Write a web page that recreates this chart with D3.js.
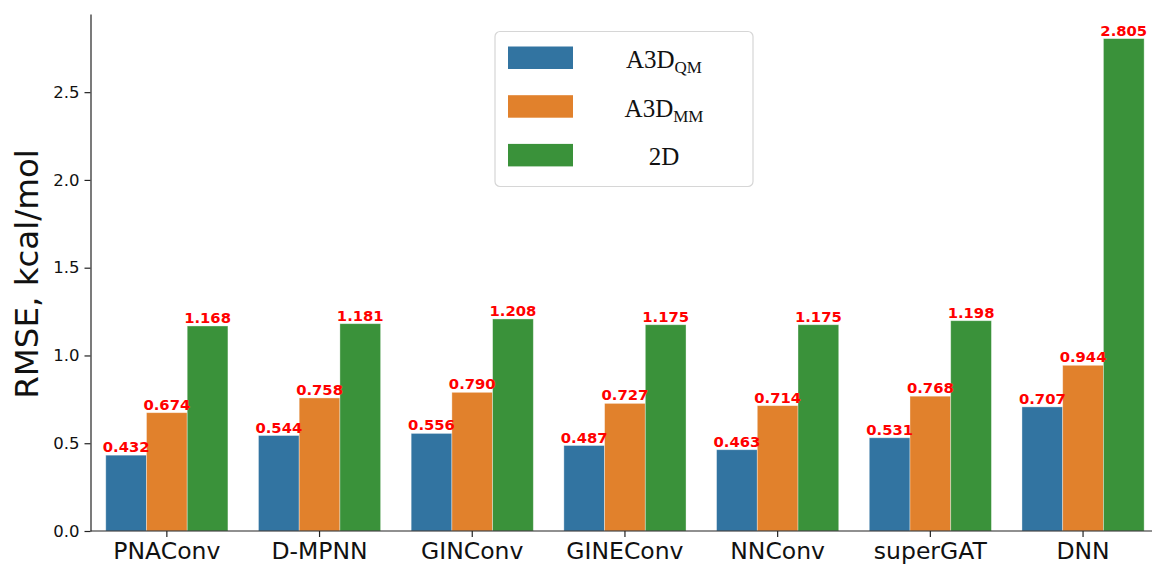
<!DOCTYPE html>
<html>
<head>
<meta charset="utf-8">
<script src="https://cdn.jsdelivr.net/npm/d3@7"></script>
<style>
  html, body { margin: 0; padding: 0; background: #fff; }
  svg { display: block; }
</style>
</head>
<body>
<svg id="chart" width="1152" height="568"></svg>
<script>
// Models compared, and RMSE (kcal/mol) for each descriptor type
const categories = ["PNAConv", "D-MPNN", "GINConv", "GINEConv", "NNConv", "superGAT", "DNN"];
const seriesKeys = ["A3D_QM", "A3D_MM", "2D"];
const valuesQM = [0.432, 0.544, 0.556, 0.487, 0.463, 0.531, 0.707];
const valuesMM = [0.674, 0.758, 0.790, 0.727, 0.714, 0.768, 0.944];
const values2D = [1.168, 1.181, 1.208, 1.175, 1.175, 1.198, 2.805];
const yTicks = [0.0, 0.5, 1.0, 1.5, 2.0, 2.5];
const seriesColors = ["#3274a1", "#e1812c", "#3a923a"];
const legendLabels = [["A3D", "QM"], ["A3D", "MM"], ["2D", ""]];

const seriesValues = [valuesQM, valuesMM, values2D];
const rows = [];
categories.forEach((c, ci) => {
  seriesKeys.forEach((k, si) => rows.push({ cat: c, key: k, si, value: seriesValues[si][ci] }));
});

const svg = d3.select("#chart");
const plotLeft = 90.5, plotBottom = 531, plotTop = 14;
const step = 152.7;

const x = d3.scaleBand()
  .domain(categories)
  .range([plotLeft, plotLeft + step * categories.length])
  .paddingInner(0.2)
  .paddingOuter(0.1);

const xSub = d3.scaleBand()
  .domain(seriesKeys)
  .range([0, x.bandwidth()]);

const yMax = d3.max(values2D) * 1.05;
const y = d3.scaleLinear().domain([0, yMax]).range([plotBottom, plotTop]);

// bars
const g = svg.append("g");
g.selectAll("rect.bar")
  .data(rows)
  .join("rect")
  .attr("class", "bar")
  .attr("x", d => x(d.cat) + xSub(d.key))
  .attr("y", d => y(d.value))
  .attr("width", xSub.bandwidth())
  .attr("height", d => y(0) - y(d.value))
  .attr("fill", d => seriesColors[d.si])
  .attr("stroke", "rgba(255,255,255,0.45)")
  .attr("stroke-width", 0.8);

// value labels
g.selectAll("text.val")
  .data(rows)
  .join("text")
  .attr("class", "val")
  .attr("x", d => x(d.cat) + xSub(d.key) + xSub.bandwidth() / 2)
  .attr("y", d => y(d.value) - 3)
  .attr("text-anchor", "middle")
  .attr("font-family", "DejaVu Sans, sans-serif")
  .attr("font-weight", "bold")
  .attr("font-size", "14.8px")
  .attr("fill", "#ff0000")
  .text(d => d.value.toFixed(3));

// axes
const xAxis = svg.append("g")
  .attr("transform", `translate(0,${plotBottom})`)
  .call(d3.axisBottom(x).tickSize(6).tickPadding(5).tickSizeOuter(0));
xAxis.select(".domain").attr("d", `M${plotLeft},0H1152`).attr("stroke", "#222").attr("stroke-width", 1.2);
xAxis.selectAll(".tick line").attr("stroke", "#222").attr("stroke-width", 1.2);
xAxis.selectAll(".tick text")
  .attr("font-family", "DejaVu Sans, sans-serif")
  .attr("font-size", "23.5px")
  .attr("fill", "#111");

const yAxis = svg.append("g")
  .attr("transform", `translate(${plotLeft},0)`)
  .call(d3.axisLeft(y).tickValues(yTicks).tickFormat(d3.format(".1f")).tickSize(6).tickPadding(5).tickSizeOuter(0));
yAxis.select(".domain").attr("stroke", "#222").attr("stroke-width", 1.2);
yAxis.selectAll(".tick line").attr("stroke", "#222").attr("stroke-width", 1.2);
yAxis.selectAll(".tick text")
  .attr("font-family", "DejaVu Sans, sans-serif")
  .attr("font-size", "16.5px")
  .attr("fill", "#111");

// y axis title
svg.append("text")
  .attr("transform", `translate(38,274) rotate(-90)`)
  .attr("text-anchor", "middle")
  .attr("font-family", "DejaVu Sans, sans-serif")
  .attr("font-size", "32.5px")
  .attr("fill", "#111")
  .text("RMSE, kcal/mol");

// legend
const legend = svg.append("g");
legend.append("rect")
  .attr("x", 495).attr("y", 31.5)
  .attr("width", 258).attr("height", 155)
  .attr("rx", 5).attr("ry", 5)
  .attr("fill", "#fff")
  .attr("stroke", "#d6d6d6")
  .attr("stroke-width", 1.2);

const items = legend.selectAll("g.item")
  .data(seriesKeys)
  .join("g")
  .attr("class", "item")
  .attr("transform", (d, i) => `translate(0,${i * 48.7})`);

items.append("rect")
  .attr("x", 508).attr("y", 46.5)
  .attr("width", 65).attr("height", 22.5)
  .attr("fill", (d, i) => seriesColors[i]);

const lt = items.append("text")
  .attr("x", 664).attr("y", 68)
  .attr("text-anchor", "middle")
  .attr("font-family", "Liberation Serif, Times New Roman, serif")
  .attr("font-size", "25px")
  .attr("fill", "#111");
lt.append("tspan").text((d, i) => legendLabels[i][0]);
lt.filter((d, i) => legendLabels[i][1] !== "")
  .append("tspan")
  .attr("dy", 5)
  .attr("font-size", "17px")
  .text((d, i) => legendLabels[i][1]);
</script>
</body>
</html>
